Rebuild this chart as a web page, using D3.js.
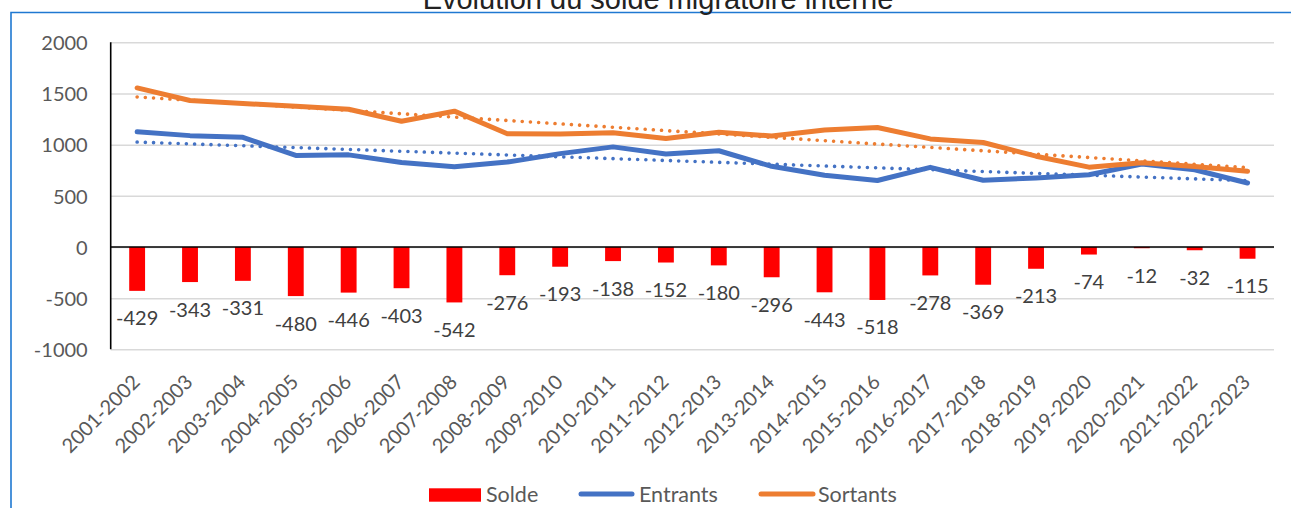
<!DOCTYPE html>
<html>
<head>
<meta charset="utf-8">
<script src="https://cdn.jsdelivr.net/npm/d3@7"></script>
<style>
  html, body { margin: 0; padding: 0; background: #fff; }
  svg { display: block; }
  text { font-family: Lato, "Open Sans", sans-serif; }
</style>
</head>
<body>
<script>
// ---- Data ----
const categories = ["2001-2002","2002-2003","2003-2004","2004-2005","2005-2006","2006-2007","2007-2008","2008-2009","2009-2010","2010-2011","2011-2012","2012-2013","2013-2014","2014-2015","2015-2016","2016-2017","2017-2018","2018-2019","2019-2020","2020-2021","2021-2022","2022-2023"];
const solde    = [-429,-343,-331,-480,-446,-403,-542,-276,-193,-138,-152,-180,-296,-443,-518,-278,-369,-213,-74,-12,-32,-115];
const entrants = [1125,1088,1071,895,900,825,785,830,912,978,908,940,788,700,650,778,652,674,706,810,755,625];
const sortants = [1554,1431,1402,1375,1346,1228,1327,1106,1105,1116,1060,1120,1084,1143,1168,1056,1021,887,780,822,787,740];
const yTicks   = [-1000,-500,0,500,1000,1500,2000];
const titleText = "Évolution du solde migratoire interne";
const legendLabels = ["Solde","Entrants","Sortants"];

// ---- Setup ----
const W = 1291, H = 508;
const svg = d3.select("body").append("svg").attr("width", W).attr("height", H);

const plotL = 110.7, plotR = 1274, plotT = 42.3, plotB = 349.3;
const x = d3.scaleBand().domain(categories).range([plotL, plotR]).padding(0);
const y = d3.scaleLinear().domain([-1000, 2000]).range([plotB, plotT]);
const cx = c => x(c) + x.bandwidth() / 2;
const barW = x.bandwidth() * 0.30;

const RED = "#FF0000", BLUE = "#4472C4", ORANGE = "#ED7D31";

// Frame (top + left edge of surrounding box)
svg.append("path")
  .attr("d", `M11,${H + 5} L11,12.5 L${W + 5},12.5`)
  .attr("fill", "none").attr("stroke", "#1f78d1").attr("stroke-width", 1.6);

// Title (partially cut at top, as in the reference)
svg.append("text")
  .attr("x", 658).attr("y", 8.5)
  .attr("text-anchor", "middle")
  .style("font-family", "'Liberation Sans', Arial, sans-serif")
  .style("font-size", "29px")
  .attr("fill", "#222")
  .text(titleText);

// Gridlines
const grid = svg.append("g").attr("transform", `translate(${plotL},0)`)
  .call(d3.axisLeft(y).tickValues(yTicks).tickSize(-(plotR - plotL)).tickFormat(""));
grid.select(".domain").remove();
grid.selectAll("line").attr("stroke", "#d9d9d9").attr("stroke-width", 1.5);

// Y axis labels
const yAx = svg.append("g").attr("transform", `translate(${plotL},0)`)
  .call(d3.axisLeft(y).tickValues(yTicks).tickSize(0).tickPadding(23).tickFormat(d => String(d)));
yAx.select(".domain").remove();
yAx.selectAll("text").style("font-size", "20px").attr("fill", "#595959").attr("dy", "0.36em");

// Bars
svg.append("g").selectAll("rect").data(solde).join("rect")
  .attr("x", (d, i) => cx(categories[i]) - barW / 2)
  .attr("y", d => y(Math.max(0, d)))
  .attr("width", barW)
  .attr("height", d => Math.abs(y(d) - y(0)))
  .attr("fill", RED);

// Zero line and left axis line
svg.append("line").attr("x1", plotL).attr("x2", plotR).attr("y1", y(0)).attr("y2", y(0))
  .attr("stroke", "#000").attr("stroke-width", 1.6);
svg.append("line").attr("x1", plotL).attr("x2", plotL).attr("y1", plotT).attr("y2", plotB)
  .attr("stroke", "#000").attr("stroke-width", 1.6);

// Linear trend helper (least squares)
function trend(vals) {
  const mx = d3.mean(vals, (d, i) => i), my = d3.mean(vals);
  let sxy = 0, sxx = 0;
  vals.forEach((v, i) => { sxy += (i - mx) * (v - my); sxx += (i - mx) * (i - mx); });
  const b = sxy / sxx, a = my - b * mx;
  return vals.map((v, i) => a + b * i);
}

const line = d3.line().x((d, i) => cx(categories[i])).y(d => y(d));

// Trend lines (dotted)
[[entrants, BLUE], [sortants, ORANGE]].forEach(([vals, col]) => {
  svg.append("path").datum(trend(vals))
    .attr("d", line).attr("fill", "none")
    .attr("stroke", col).attr("stroke-width", 3.6)
    .attr("stroke-linecap", "round").attr("stroke-dasharray", "0.01 8.2");
});

// Main lines
[[entrants, BLUE], [sortants, ORANGE]].forEach(([vals, col]) => {
  svg.append("path").datum(vals)
    .attr("d", line).attr("fill", "none")
    .attr("stroke", col).attr("stroke-width", 5)
    .attr("stroke-linejoin", "round").attr("stroke-linecap", "round");
});

// Data labels for bars
svg.append("g").selectAll("text").data(solde).join("text")
  .attr("x", (d, i) => cx(categories[i]))
  .attr("y", d => y(Math.min(0, d)) + 34.5)
  .attr("text-anchor", "middle")
  .style("font-size", "20px")
  .attr("fill", "#404040")
  .text(d => String(d));

// X axis labels
const xAx = svg.append("g").attr("transform", `translate(0,${plotB})`)
  .call(d3.axisBottom(x).tickSize(0));
xAx.select(".domain").remove();
xAx.selectAll("text")
  .attr("x", 0).attr("y", 0).attr("dy", 0)
  .attr("text-anchor", "end")
  .attr("transform", "translate(4,34) rotate(-45)")
  .style("font-size", "20px")
  .attr("fill", "#595959");

// Legend
const lg = svg.append("g");
const lfs = "21.5px";
lg.append("rect").attr("x", 429).attr("y", 488.3).attr("width", 52).attr("height", 13.4).attr("fill", RED);
lg.append("text").attr("x", 486).attr("y", 501.5).style("font-size", lfs).attr("fill", "#595959").text(legendLabels[0]);
lg.append("line").attr("x1", 581).attr("x2", 632).attr("y1", 494).attr("y2", 494)
  .attr("stroke", BLUE).attr("stroke-width", 5).attr("stroke-linecap", "round");
lg.append("text").attr("x", 639).attr("y", 501.5).style("font-size", lfs).attr("fill", "#595959").text(legendLabels[1]);
lg.append("line").attr("x1", 761).attr("x2", 813).attr("y1", 494).attr("y2", 494)
  .attr("stroke", ORANGE).attr("stroke-width", 5).attr("stroke-linecap", "round");
lg.append("text").attr("x", 818).attr("y", 501.5).style("font-size", lfs).attr("fill", "#595959").text(legendLabels[2]);
</script>
</body>
</html>
